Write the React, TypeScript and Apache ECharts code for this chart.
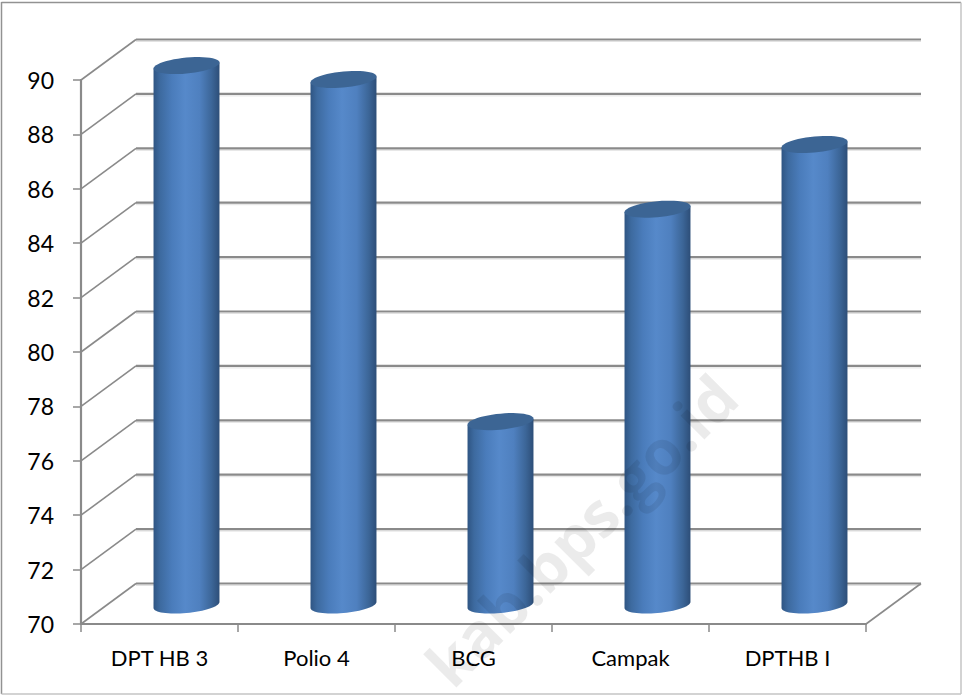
import React, { useEffect, useRef } from "react";
import * as echarts from "echarts";

const categories = ["DPT HB 3", "Polio 4", "BCG", "Campak", "DPTHB I"];
const values = [89.85, 89.34, 76.76, 84.57, 86.95];
const yTicks = [70, 72, 74, 76, 78, 80, 82, 84, 86, 88, 90];
const watermark = "kab.bps.go.id";

const FONT = "Lato, 'Open Sans', sans-serif";
const GRAY = "#8a8a8a";
const DEPTH_X = 55;
const DEPTH_Y = 40.5;

const bodyGradient = () =>
  new echarts.graphic.LinearGradient(0, 0, 1, 0, [
    { offset: 0, color: "#2f5583" },
    { offset: 0.1, color: "#3d6a9f" },
    { offset: 0.28, color: "#4a7cbb" },
    { offset: 0.48, color: "#5689ca" },
    { offset: 0.7, color: "#4f80bf" },
    { offset: 0.88, color: "#3c6698" },
    { offset: 1, color: "#2d4e78" },
  ]);

function renderWall(params: any, api: any) {
  const value = api.value(0);
  const [, y] = api.coord([0, value]);
  const x0 = params.coordSys.x;
  const x1 = x0 + params.coordSys.width;
  const style = { stroke: GRAY, lineWidth: 2.2, fill: "none" };
  const children: any[] = [
    { type: "line", shape: { x1: x0, y1: y, x2: x0 + DEPTH_X, y2: y - DEPTH_Y }, style: { ...style, lineWidth: 1.6 } },
    { type: "line", shape: { x1: x0 + DEPTH_X, y1: y - DEPTH_Y + 2, x2: x1 + DEPTH_X, y2: y - DEPTH_Y + 2 }, style: { ...style, stroke: "#e2e2e2", lineWidth: 1 } },
    { type: "line", shape: { x1: x0 + DEPTH_X, y1: y - DEPTH_Y, x2: x1 + DEPTH_X, y2: y - DEPTH_Y }, style },
  ];
  if (value === yTicks[0]) {
    children.push({
      type: "line",
      shape: { x1, y1: y, x2: x1 + DEPTH_X, y2: y - DEPTH_Y },
      style: { ...style, lineWidth: 1.6 },
    });
  }
  return { type: "group", children };
}

function renderCylinder(_params: any, api: any) {
  const idx = api.value(0);
  const top = api.coord([idx, api.value(1)]);
  const base = api.coord([idx, yTicks[0]]);
  const rx = (api.size([1, 0])[0] * 0.42) / 2;
  const ry = 8;
  const cx = top[0] + 27;
  const topY = top[1] - 18.5;
  const baseY = base[1] - 19;
  const tilt = Math.atan2(6, 66);
  const pts: number[][] = [];
  pts.push([cx - rx, topY + rx * Math.tan(tilt)]);
  const N = 32;
  for (let i = 0; i <= N; i++) {
    const t = Math.PI - (i / N) * Math.PI;
    const ex = rx * Math.cos(t);
    const ey = ry * Math.sin(t);
    pts.push([cx + ex, baseY + ey - ex * Math.tan(tilt)]);
  }
  pts.push([cx + rx, topY - rx * Math.tan(tilt)]);
  const topPts: number[][] = [];
  const M = 48;
  for (let i = 0; i < M; i++) {
    const t = (i / M) * Math.PI * 2;
    const ex = rx * Math.cos(t);
    const ey = ry * Math.sin(t);
    topPts.push([cx + ex, topY + ey - ex * Math.tan(tilt)]);
  }
  return {
    type: "group",
    children: [
      { type: "polygon", shape: { points: pts }, style: { fill: bodyGradient() } },
      { type: "polygon", shape: { points: topPts }, style: { fill: "#3c6594" } },
    ],
  };
}

const frameLine = (x1: number, y1: number, x2: number, y2: number, stroke: string) => ({
  type: "line",
  z: 0,
  silent: true,
  shape: { x1, y1, x2, y2 },
  style: { stroke, lineWidth: 1.5 },
});

export default function App() {
  const ref = useRef<HTMLDivElement>(null);
  useEffect(() => {
    document.body.style.margin = "0";
    const chart = echarts.init(ref.current!, undefined, { renderer: "svg" });
    chart.setOption({
      animation: false,
      backgroundColor: "#ffffff",
      grid: { left: 81, right: 96, top: 80, bottom: 71, containLabel: false },
      xAxis: {
        type: "category",
        data: categories,
        boundaryGap: true,
        axisLine: { show: true, lineStyle: { color: GRAY, width: 2.2 } },
        axisTick: { show: true, alignWithLabel: false, length: 8, lineStyle: { color: GRAY, width: 1.5 } },
        axisLabel: { color: "#000", fontFamily: FONT, fontSize: 22, margin: 22 },
        splitLine: { show: false },
      },
      yAxis: {
        type: "value",
        min: 70,
        max: 90,
        interval: 2,
        axisLine: { show: true, lineStyle: { color: GRAY, width: 2.2 } },
        axisTick: { show: true, length: 8, lineStyle: { color: GRAY, width: 1.5 } },
        axisLabel: { color: "#000", fontFamily: FONT, fontSize: 23, margin: 27, padding: [2, 0, 0, 0] },
        splitLine: { show: false },
      },
      series: [
        {
          type: "custom",
          silent: true,
          z: 1,
          clip: false,
          renderItem: renderWall,
          encode: { y: 0 },
          data: yTicks.map((v) => [v]),
        },
        {
          type: "custom",
          silent: true,
          z: 3,
          clip: false,
          renderItem: renderCylinder,
          encode: { x: 0, y: 1 },
          data: values.map((v, i) => [i, v]),
        },
      ],
      graphic: [
        frameLine(1.5, 2.5, 961, 2.5, "#929292"),
        frameLine(1.5, 2, 1.5, 694, "#929292"),
        frameLine(961, 2.5, 961, 694, "#c4c4c4"),
        frameLine(1.5, 694, 961, 694, "#c4c4c4"),
        {
          type: "text",
          z: 10,
          silent: true,
          x: 458,
          y: 696,
          rotation: Math.PI / 4,
          style: {
            text: watermark,
            fill: "rgba(0,0,0,0.08)",
            font: `bold 62px 'Open Sans', sans-serif`,
            textAlign: "left",
            textVerticalAlign: "bottom",
          },
        },
      ],
    });
    return () => chart.dispose();
  }, []);
  return <div ref={ref} style={{ width: 962, height: 695 }} />;
}
